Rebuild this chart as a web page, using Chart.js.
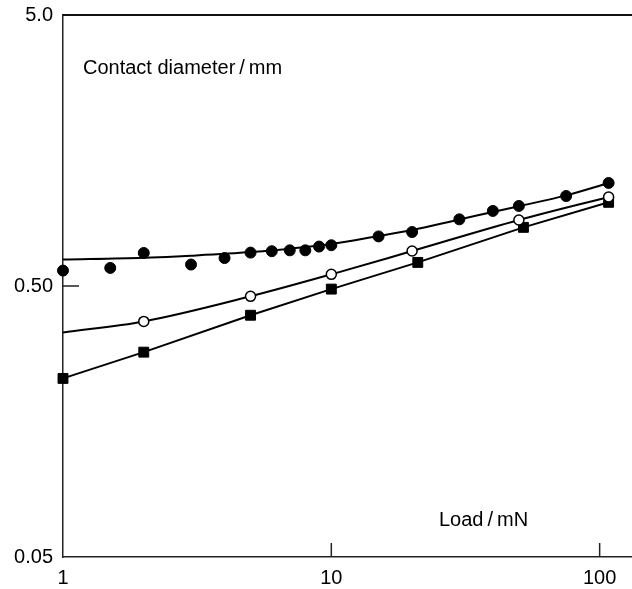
<!DOCTYPE html>
<html>
<head>
    <title>Contact diameter vs load</title>
    <script src="https://cdn.jsdelivr.net/npm/chart.js"></script>
    <style>
        body { margin: 0; background: #fff; overflow: hidden; }
        canvas { display: block; }
    </style>
</head>
<body>
    <canvas id="loadChart" width="632" height="589"></canvas>

    <script>
        // load (mN) and contact diameter (mm)
        const filledLoad = [1, 1.5, 2, 3, 4, 5, 6, 7, 8, 9, 10, 15, 20, 30, 40, 50, 75, 108];
        const filledDiam = [0.57, 0.583, 0.662, 0.60, 0.634, 0.664, 0.672, 0.677, 0.677, 0.699, 0.707, 0.762, 0.791, 0.881, 0.946, 0.987, 1.074, 1.20];
        const filledFitLoad = [1, 2, 3, 5, 10, 15, 20, 30, 50, 75, 108];
        const filledFitDiam = [0.626, 0.636, 0.647, 0.667, 0.715, 0.765, 0.805, 0.88, 0.985, 1.08, 1.2];

        const openLoad = [2, 5, 10, 20, 50, 108];
        const openDiam = [0.370, 0.458, 0.552, 0.673, 0.876, 1.065];
        const openFitLoad = [1, 2, 5, 10, 20, 50, 108];
        const openFitDiam = [0.337, 0.370, 0.458, 0.552, 0.673, 0.876, 1.065];

        const squareLoad = [1, 2, 5, 10, 21, 52, 108];
        const squareDiam = [0.228, 0.285, 0.39, 0.487, 0.611, 0.823, 1.018];

        const xTicks = [1, 10, 100];
        const xTickLabels = ['1', '10', '100'];
        const yTicks = [0.05, 0.5, 5];
        const yTickLabels = ['0.05', '0.50', '5.0'];

        const pts = (xs, ys) => xs.map((x, i) => ({ x: x, y: ys[i] }));
        const FONT = '"Liberation Sans", Arial, Helvetica, sans-serif';

        // top frame line, inward tick marks, x tick labels and the two axis captions
        const framePlugin = {
            id: 'frame',
            afterDraw(chart) {
                const ctx = chart.ctx;
                const a = chart.chartArea;
                const xs = chart.scales.x;
                const ys = chart.scales.y;
                ctx.save();
                ctx.strokeStyle = '#111';
                ctx.lineWidth = 2;
                ctx.beginPath();
                ctx.moveTo(a.left, a.top);
                ctx.lineTo(chart.width, a.top);
                ctx.stroke();

                ctx.lineWidth = 1.5;
                ctx.strokeStyle = '#222';
                ctx.beginPath();
                const yp = ys.getPixelForValue(0.5);
                ctx.moveTo(a.left, yp);
                ctx.lineTo(a.left + 16, yp);
                [10, 100].forEach(v => {
                    const xp = xs.getPixelForValue(v);
                    ctx.moveTo(xp, a.bottom);
                    ctx.lineTo(xp, a.bottom - 14);
                });
                ctx.stroke();

                ctx.fillStyle = '#000';
                ctx.font = '20px ' + FONT;
                ctx.textBaseline = 'alphabetic';
                ctx.textAlign = 'center';
                xTicks.forEach((v, i) => {
                    ctx.fillText(xTickLabels[i], xs.getPixelForValue(v), a.bottom + 27);
                });
                ctx.textAlign = 'left';
                ctx.fillText('Contact diameter\u2009/\u2009mm', 83, 74);
                ctx.fillText('Load\u2009/\u2009mN', 439, 526);
                ctx.restore();
            }
        };

        const ctx = document.getElementById('loadChart').getContext('2d');
        const chart = new Chart(ctx, {
            type: 'scatter',
            data: {
                datasets: [
                    {
                        label: 'filled circles',
                        data: pts(filledLoad, filledDiam),
                        showLine: false,
                        pointStyle: 'circle',
                        pointRadius: 5.5,
                        pointBackgroundColor: '#000',
                        pointBorderColor: '#000',
                        pointBorderWidth: 1,
                        clip: false,
                        order: 0
                    },
                    {
                        label: 'filled fit',
                        data: pts(filledFitLoad, filledFitDiam),
                        showLine: true,
                        borderColor: '#000',
                        borderWidth: 2,
                        pointRadius: 0,
                        cubicInterpolationMode: 'monotone',
                        order: 2
                    },
                    {
                        label: 'open circles',
                        data: pts(openLoad, openDiam),
                        showLine: false,
                        pointStyle: 'circle',
                        pointRadius: 5,
                        pointBackgroundColor: '#fff',
                        pointBorderColor: '#000',
                        pointBorderWidth: 1.5,
                        clip: false,
                        order: 0
                    },
                    {
                        label: 'open fit',
                        data: pts(openFitLoad, openFitDiam),
                        showLine: true,
                        borderColor: '#000',
                        borderWidth: 2,
                        pointRadius: 0,
                        cubicInterpolationMode: 'monotone',
                        order: 2
                    },
                    {
                        label: 'squares',
                        data: pts(squareLoad, squareDiam),
                        showLine: true,
                        borderColor: '#000',
                        borderWidth: 2,
                        tension: 0,
                        pointStyle: 'rect',
                        pointRadius: 7,
                        pointBackgroundColor: '#000',
                        pointBorderColor: '#000',
                        pointBorderWidth: 1,
                        clip: false,
                        order: 1
                    }
                ]
            },
            options: {
                responsive: false,
                animation: false,
                layout: { autoPadding: false, padding: { top: 15, right: 0, left: 0, bottom: 0 } },
                plugins: {
                    legend: { display: false },
                    tooltip: { enabled: false }
                },
                scales: {
                    x: {
                        type: 'logarithmic',
                        min: 1,
                        max: 132,
                        afterBuildTicks: s => { s.ticks = xTicks.map(v => ({ value: v })); },
                        afterFit: s => {
                            s.height = 32;
                            s.paddingLeft = 0;
                            s.paddingRight = 0;
                        },
                        ticks: { display: false },
                        grid: { display: false, drawTicks: false },
                        border: { display: true, color: '#222', width: 1.5 }
                    },
                    y: {
                        type: 'logarithmic',
                        min: 0.05,
                        max: 5,
                        afterBuildTicks: s => { s.ticks = yTicks.map(v => ({ value: v })); },
                        afterFit: s => {
                            s.width = 63;
                            s.paddingTop = 0;
                            s.paddingBottom = 0;
                        },
                        ticks: {
                            autoSkip: false,
                            padding: 10,
                            color: '#000',
                            font: { family: FONT, size: 20 },
                            callback: v => yTickLabels[yTicks.indexOf(v)]
                        },
                        grid: { display: false, drawTicks: false },
                        border: { display: true, color: '#222', width: 1.5 }
                    }
                }
            },
            plugins: [framePlugin]
        });
    </script>
</body>
</html>
